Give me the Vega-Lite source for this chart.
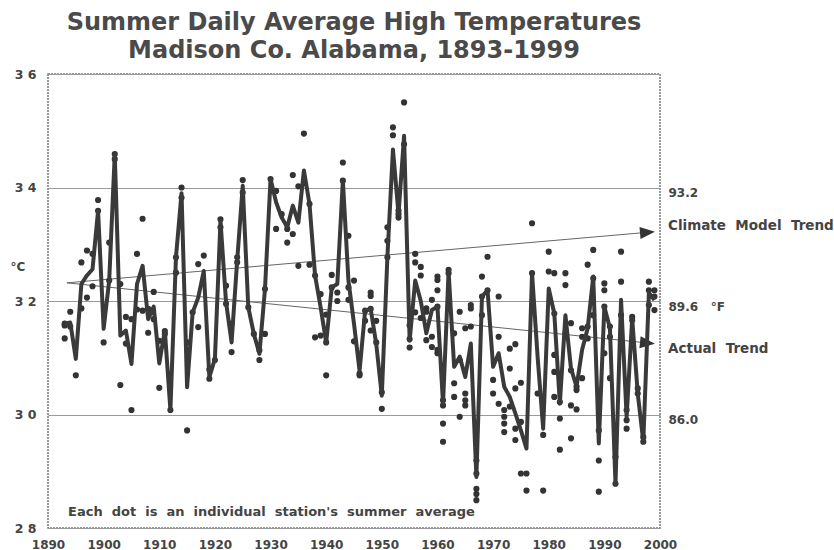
{
  "$schema": "https://vega.github.io/schema/vega-lite/v6.json",
  "width": 612,
  "height": 454,
  "autosize": "none",
  "padding": {"left": 48, "top": 74, "right": 174, "bottom": 22},
  "background": "white",
  "title": {
    "text": ["Summer Daily Average High Temperatures", "Madison Co. Alabama, 1893-1999"],
    "font": "DejaVu Sans",
    "fontWeight": "bold",
    "fontSize": 24,
    "lineHeight": 28,
    "color": "#4a4a4a",
    "anchor": "middle",
    "offset": 5
  },
  "config": {
    "view": {"stroke": "#777", "strokeWidth": 1.5, "strokeDash": [2, 1]},
    "axis": {"labelFont": "DejaVu Sans", "titleFont": "DejaVu Sans"}
  },
  "datasets": {
    "annual": [
      {"year":1893,"temp":31.60},{"year":1894,"temp":31.62},{"year":1895,"temp":30.98},{"year":1896,"temp":32.30},
      {"year":1897,"temp":32.45},{"year":1898,"temp":32.56},{"year":1899,"temp":33.59},{"year":1900,"temp":31.51},
      {"year":1901,"temp":32.36},{"year":1902,"temp":34.59},{"year":1903,"temp":31.39},{"year":1904,"temp":31.48},
      {"year":1905,"temp":30.89},{"year":1906,"temp":32.30},{"year":1907,"temp":32.62},{"year":1908,"temp":31.68},
      {"year":1909,"temp":31.90},{"year":1910,"temp":30.90},{"year":1911,"temp":31.48},{"year":1912,"temp":30.08},
      {"year":1913,"temp":32.77},{"year":1914,"temp":33.90},{"year":1915,"temp":30.48},{"year":1916,"temp":31.80},
      {"year":1917,"temp":32.06},{"year":1918,"temp":32.53},{"year":1919,"temp":30.66},{"year":1920,"temp":30.98},
      {"year":1921,"temp":33.41},{"year":1922,"temp":31.98},{"year":1923,"temp":31.27},{"year":1924,"temp":32.71},
      {"year":1925,"temp":34.03},{"year":1926,"temp":31.89},{"year":1927,"temp":31.42},{"year":1928,"temp":31.07},
      {"year":1929,"temp":32.21},{"year":1930,"temp":34.15},{"year":1931,"temp":33.74},{"year":1932,"temp":33.47},
      {"year":1933,"temp":33.30},{"year":1934,"temp":33.68},{"year":1935,"temp":33.38},{"year":1936,"temp":34.30},
      {"year":1937,"temp":33.71},{"year":1938,"temp":32.45},{"year":1939,"temp":31.89},{"year":1940,"temp":31.27},
      {"year":1941,"temp":32.24},{"year":1942,"temp":32.30},{"year":1943,"temp":34.12},{"year":1944,"temp":32.36},
      {"year":1945,"temp":31.60},{"year":1946,"temp":30.77},{"year":1947,"temp":31.83},{"year":1948,"temp":31.86},
      {"year":1949,"temp":31.24},{"year":1950,"temp":30.33},{"year":1951,"temp":32.77},{"year":1952,"temp":34.67},
      {"year":1953,"temp":33.53},{"year":1954,"temp":34.91},{"year":1955,"temp":31.30},{"year":1956,"temp":32.36},
      {"year":1957,"temp":32.00},{"year":1958,"temp":31.43},{"year":1959,"temp":31.84},{"year":1960,"temp":31.90},
      {"year":1961,"temp":30.19},{"year":1962,"temp":32.52},{"year":1963,"temp":30.84},{"year":1964,"temp":31.02},
      {"year":1965,"temp":30.66},{"year":1966,"temp":31.25},{"year":1967,"temp":28.90},{"year":1968,"temp":32.08},
      {"year":1969,"temp":32.19},{"year":1970,"temp":30.84},{"year":1971,"temp":31.08},{"year":1972,"temp":30.49},
      {"year":1973,"temp":30.31},{"year":1974,"temp":30.02},{"year":1975,"temp":29.72},{"year":1976,"temp":29.40},
      {"year":1977,"temp":32.49},{"year":1978,"temp":31.02},{"year":1979,"temp":29.75},{"year":1980,"temp":32.22},
      {"year":1981,"temp":31.78},{"year":1982,"temp":30.19},{"year":1983,"temp":31.75},{"year":1984,"temp":30.81},
      {"year":1985,"temp":30.49},{"year":1986,"temp":31.14},{"year":1987,"temp":31.52},{"year":1988,"temp":32.43},
      {"year":1989,"temp":29.49},{"year":1990,"temp":31.90},{"year":1991,"temp":31.52},{"year":1992,"temp":28.78},
      {"year":1993,"temp":32.02},{"year":1994,"temp":29.96},{"year":1995,"temp":31.69},{"year":1996,"temp":30.37},
      {"year":1997,"temp":29.52},{"year":1998,"temp":32.14},{"year":1999,"temp":32.02}
    ],
    "stations": [
      {"year":1893,"temp":31.60},{"year":1893,"temp":31.34},{"year":1893,"temp":31.57},
      {"year":1894,"temp":31.81},{"year":1894,"temp":31.55},
      {"year":1895,"temp":30.69},
      {"year":1896,"temp":32.68},{"year":1896,"temp":31.87},
      {"year":1897,"temp":32.89},{"year":1897,"temp":32.06},
      {"year":1898,"temp":32.83},{"year":1898,"temp":32.26},
      {"year":1899,"temp":33.78},{"year":1899,"temp":33.59},
      {"year":1900,"temp":31.27},
      {"year":1901,"temp":33.03},{"year":1901,"temp":32.36},
      {"year":1902,"temp":34.59},{"year":1902,"temp":34.50},
      {"year":1903,"temp":32.30},{"year":1903,"temp":30.52},
      {"year":1904,"temp":31.72},{"year":1904,"temp":31.25},
      {"year":1905,"temp":31.68},{"year":1905,"temp":30.08},
      {"year":1906,"temp":32.83},{"year":1906,"temp":31.85},
      {"year":1907,"temp":33.45},{"year":1907,"temp":31.83},
      {"year":1908,"temp":31.86},{"year":1908,"temp":31.44},
      {"year":1909,"temp":32.16},{"year":1909,"temp":31.68},
      {"year":1910,"temp":31.30},{"year":1910,"temp":30.47},
      {"year":1911,"temp":31.47},{"year":1911,"temp":31.42},
      {"year":1912,"temp":30.08},
      {"year":1913,"temp":32.77},{"year":1913,"temp":32.50},
      {"year":1914,"temp":34.00},{"year":1914,"temp":33.82},
      {"year":1915,"temp":31.27},{"year":1915,"temp":29.72},
      {"year":1916,"temp":31.80},
      {"year":1917,"temp":32.65},{"year":1917,"temp":31.54},
      {"year":1918,"temp":32.80},
      {"year":1919,"temp":30.63},{"year":1919,"temp":30.79},
      {"year":1920,"temp":30.96},
      {"year":1921,"temp":33.44},{"year":1921,"temp":33.30},
      {"year":1922,"temp":32.27},{"year":1922,"temp":31.95},
      {"year":1923,"temp":31.60},{"year":1923,"temp":31.10},
      {"year":1924,"temp":32.77},{"year":1924,"temp":32.68},
      {"year":1925,"temp":34.13},{"year":1925,"temp":33.91},
      {"year":1926,"temp":31.89},
      {"year":1927,"temp":31.42},
      {"year":1928,"temp":30.96},{"year":1928,"temp":31.13},
      {"year":1929,"temp":31.42},{"year":1929,"temp":32.21},
      {"year":1930,"temp":34.15},
      {"year":1931,"temp":33.94},{"year":1931,"temp":33.27},
      {"year":1932,"temp":33.53},
      {"year":1933,"temp":33.27},{"year":1933,"temp":33.03},
      {"year":1934,"temp":34.22},{"year":1934,"temp":33.18},
      {"year":1935,"temp":34.02},{"year":1935,"temp":32.62},
      {"year":1936,"temp":34.95},
      {"year":1937,"temp":33.71},{"year":1937,"temp":32.64},
      {"year":1938,"temp":32.45},{"year":1938,"temp":31.36},
      {"year":1939,"temp":32.12},{"year":1939,"temp":31.39},
      {"year":1940,"temp":30.69},{"year":1940,"temp":31.27},{"year":1940,"temp":31.76},
      {"year":1941,"temp":32.46},{"year":1941,"temp":32.24},
      {"year":1942,"temp":32.15},{"year":1942,"temp":32.00},
      {"year":1943,"temp":34.44},{"year":1943,"temp":34.12},
      {"year":1944,"temp":33.15},{"year":1944,"temp":32.24},{"year":1944,"temp":32.02},
      {"year":1945,"temp":32.36},{"year":1945,"temp":31.29},
      {"year":1946,"temp":30.72},{"year":1946,"temp":30.69},
      {"year":1947,"temp":31.83},{"year":1947,"temp":31.65},
      {"year":1948,"temp":32.15},{"year":1948,"temp":32.09},{"year":1948,"temp":31.86},{"year":1948,"temp":31.48},
      {"year":1949,"temp":31.65},{"year":1949,"temp":31.27},
      {"year":1950,"temp":30.10},{"year":1950,"temp":30.39},
      {"year":1951,"temp":33.30},{"year":1951,"temp":33.06},{"year":1951,"temp":32.77},
      {"year":1952,"temp":35.06},{"year":1952,"temp":34.92},
      {"year":1953,"temp":33.53},{"year":1953,"temp":33.47},{"year":1953,"temp":33.59},
      {"year":1954,"temp":35.50},{"year":1954,"temp":34.76},
      {"year":1955,"temp":31.18},{"year":1955,"temp":31.33},{"year":1955,"temp":31.57},
      {"year":1956,"temp":32.83},{"year":1956,"temp":32.68},{"year":1956,"temp":31.80},
      {"year":1957,"temp":32.60},{"year":1957,"temp":32.45},{"year":1957,"temp":31.70},
      {"year":1958,"temp":31.87},{"year":1958,"temp":31.81},{"year":1958,"temp":31.31},
      {"year":1959,"temp":32.02},{"year":1959,"temp":31.37},{"year":1959,"temp":31.19},
      {"year":1960,"temp":32.43},{"year":1960,"temp":32.37},{"year":1960,"temp":32.19},{"year":1960,"temp":31.90},{"year":1960,"temp":31.14},{"year":1960,"temp":31.08},
      {"year":1961,"temp":30.25},{"year":1961,"temp":30.16},{"year":1961,"temp":29.84},{"year":1961,"temp":29.52},
      {"year":1962,"temp":32.55},{"year":1962,"temp":32.49},
      {"year":1963,"temp":31.43},{"year":1963,"temp":30.55},{"year":1963,"temp":30.31},
      {"year":1964,"temp":31.81},{"year":1964,"temp":30.96},{"year":1964,"temp":29.96},
      {"year":1965,"temp":31.52},{"year":1965,"temp":30.37},{"year":1965,"temp":30.25},{"year":1965,"temp":30.16},
      {"year":1966,"temp":31.93},{"year":1966,"temp":31.87},{"year":1966,"temp":31.55},
      {"year":1967,"temp":29.19},{"year":1967,"temp":28.96},{"year":1967,"temp":28.69},{"year":1967,"temp":28.60},{"year":1967,"temp":28.49},
      {"year":1968,"temp":32.43},{"year":1968,"temp":32.08},{"year":1968,"temp":31.75},
      {"year":1969,"temp":32.78},{"year":1969,"temp":32.19},
      {"year":1970,"temp":30.61},{"year":1970,"temp":30.37},
      {"year":1971,"temp":32.08},{"year":1971,"temp":31.37},{"year":1971,"temp":30.19},
      {"year":1972,"temp":30.08},{"year":1972,"temp":29.96},{"year":1972,"temp":29.84},{"year":1972,"temp":29.69},
      {"year":1973,"temp":31.16},{"year":1973,"temp":30.81},{"year":1973,"temp":30.14},
      {"year":1974,"temp":31.24},{"year":1974,"temp":30.46},{"year":1974,"temp":29.75},{"year":1974,"temp":29.55},
      {"year":1975,"temp":30.56},{"year":1975,"temp":29.87},{"year":1975,"temp":28.96},
      {"year":1976,"temp":28.96},{"year":1976,"temp":28.66},
      {"year":1977,"temp":33.37},{"year":1977,"temp":32.49},
      {"year":1978,"temp":30.37},
      {"year":1979,"temp":29.64},{"year":1979,"temp":28.66},
      {"year":1980,"temp":32.87},{"year":1980,"temp":32.52},
      {"year":1981,"temp":32.49},{"year":1981,"temp":31.78},{"year":1981,"temp":31.05},{"year":1981,"temp":30.75},{"year":1981,"temp":30.31},
      {"year":1982,"temp":29.93},{"year":1982,"temp":30.22},{"year":1982,"temp":29.38},
      {"year":1983,"temp":32.49},{"year":1983,"temp":32.28},{"year":1983,"temp":31.43},
      {"year":1984,"temp":31.61},{"year":1984,"temp":30.78},{"year":1984,"temp":30.16},{"year":1984,"temp":29.58},
      {"year":1985,"temp":30.49},{"year":1985,"temp":30.43},{"year":1985,"temp":30.09},
      {"year":1986,"temp":31.52},{"year":1986,"temp":31.37},{"year":1986,"temp":30.64},
      {"year":1987,"temp":32.64},{"year":1987,"temp":31.55},{"year":1987,"temp":31.34},
      {"year":1988,"temp":32.90},{"year":1988,"temp":32.40},{"year":1988,"temp":31.75},
      {"year":1989,"temp":29.72},{"year":1989,"temp":29.19},{"year":1989,"temp":28.64},
      {"year":1990,"temp":32.31},{"year":1990,"temp":32.19},{"year":1990,"temp":31.90},{"year":1990,"temp":31.08},
      {"year":1991,"temp":31.55},{"year":1991,"temp":31.37},{"year":1991,"temp":30.64},
      {"year":1992,"temp":29.25},{"year":1992,"temp":28.78},
      {"year":1993,"temp":32.87},{"year":1993,"temp":32.34},{"year":1993,"temp":31.75},
      {"year":1994,"temp":30.08},{"year":1994,"temp":29.90},{"year":1994,"temp":29.75},
      {"year":1995,"temp":31.72},{"year":1995,"temp":31.66},
      {"year":1996,"temp":30.46},{"year":1996,"temp":30.37},
      {"year":1997,"temp":29.60},{"year":1997,"temp":29.52},
      {"year":1998,"temp":32.34},{"year":1998,"temp":32.19},{"year":1998,"temp":31.93},
      {"year":1999,"temp":32.19},{"year":1999,"temp":32.08},{"year":1999,"temp":31.84}
    ],
    "trends": [
      {"trend":"model","year":1893.4,"temp":32.32},
      {"trend":"model","year":1997.75,"temp":33.21},
      {"trend":"actual","year":1893.4,"temp":32.32},
      {"trend":"actual","year":1997.75,"temp":31.26}
    ],
    "labels": [
      {"label":"Climate\u00a0 Model\u00a0 Trend","year":2000,"temp":33.32},
      {"label":"Actual\u00a0 Trend","year":2000,"temp":31.15}
    ],
    "note": [
      {"label":"Each\u00a0 dot\u00a0 is\u00a0 an\u00a0 individual\u00a0 station's\u00a0 summer\u00a0 average","year":1893.6,"temp":28.28}
    ]
  },
  "resolve": {"axis": {"y": "independent"}},
  "layer": [
    {
      "data": {"name": "trends"},
      "mark": {"type": "line", "color": "#666", "strokeWidth": 1},
      "encoding": {
        "x": {
          "field": "year", "type": "quantitative",
          "scale": {"domain": [1890, 2000], "nice": false, "zero": false},
          "axis": {
            "title": null, "values": [1890,1900,1910,1920,1930,1940,1950,1960,1970,1980,1990,2000],
            "format": "d", "labelFontSize": 12, "labelFontWeight": "bold", "labelColor": "#444",
            "ticks": false, "domain": false, "grid": false, "labelPadding": 11, "labelFlush": false
          }
        },
        "y": {
          "field": "temp", "type": "quantitative",
          "scale": {"domain": [28, 36], "nice": false, "zero": false},
          "axis": {
            "orient": "left", "values": [28, 30, 32, 34, 36],
            "labelExpr": "substring(datum.label,0,1) + '\u00a0' + substring(datum.label,1,2)",
            "labelFontSize": 12.5, "labelFontWeight": "bold", "labelColor": "#444",
            "ticks": false, "domain": false, "labelPadding": 12,
            "grid": true, "gridColor": "#999", "gridWidth": 1, "gridOpacity": 1,
            "title": "°C", "titleAngle": 0, "titleX": -38, "titleY": 192,
            "titleAlign": "left", "titleBaseline": "middle",
            "titleFontSize": 12, "titleFontWeight": "bold", "titleColor": "#444"
          }
        },
        "detail": {"field": "trend"}
      }
    },
    {
      "data": {"name": "trends"},
      "transform": [{"filter": "datum.year > 1990"}],
      "mark": {"type": "point", "shape": "M-1,-0.8L1,0L-1,0.8Z", "filled": true, "size": 225, "color": "#333", "opacity": 1},
      "encoding": {
        "x": {"field": "year", "type": "quantitative"},
        "y": {"field": "temp", "type": "quantitative", "axis": null},
        "angle": {"condition": {"test": "datum.trend === 'model'", "value": -5}, "value": 6}
      }
    },
    {
      "data": {"name": "stations"},
      "mark": {"type": "circle", "size": 38, "color": "#333", "opacity": 1},
      "encoding": {
        "x": {"field": "year", "type": "quantitative"},
        "y": {"field": "temp", "type": "quantitative", "axis": null}
      }
    },
    {
      "data": {"name": "annual"},
      "mark": {"type": "line", "color": "#3a3a3a", "strokeWidth": 4, "strokeJoin": "round"},
      "encoding": {
        "x": {"field": "year", "type": "quantitative"},
        "y": {
          "field": "temp", "type": "quantitative",
          "axis": {
            "orient": "right", "values": [30, 32, 34], "title": null,
            "labelExpr": "datum.value == 34 ? '93.2' : datum.value == 32 ? '89.6\u00a0\u00a0\u00a0°F' : '86.0'",
            "labelFontSize": 12, "labelFontWeight": "bold", "labelColor": "#444",
            "ticks": false, "domain": false, "grid": false, "labelPadding": 8, "labelOffset": 5
          }
        }
      }
    },
    {
      "data": {"name": "labels"},
      "mark": {"type": "text", "align": "left", "baseline": "middle", "dx": 8, "font": "DejaVu Sans", "fontWeight": "bold", "fontSize": 13.5, "color": "#444"},
      "encoding": {
        "x": {"field": "year", "type": "quantitative"},
        "y": {"field": "temp", "type": "quantitative", "axis": null},
        "text": {"field": "label"}
      }
    },
    {
      "data": {"name": "note"},
      "mark": {"type": "text", "align": "left", "baseline": "middle", "font": "DejaVu Sans", "fontWeight": "bold", "fontSize": 13, "color": "#444"},
      "encoding": {
        "x": {"field": "year", "type": "quantitative"},
        "y": {"field": "temp", "type": "quantitative", "axis": null},
        "text": {"field": "label"}
      }
    }
  ]
}
